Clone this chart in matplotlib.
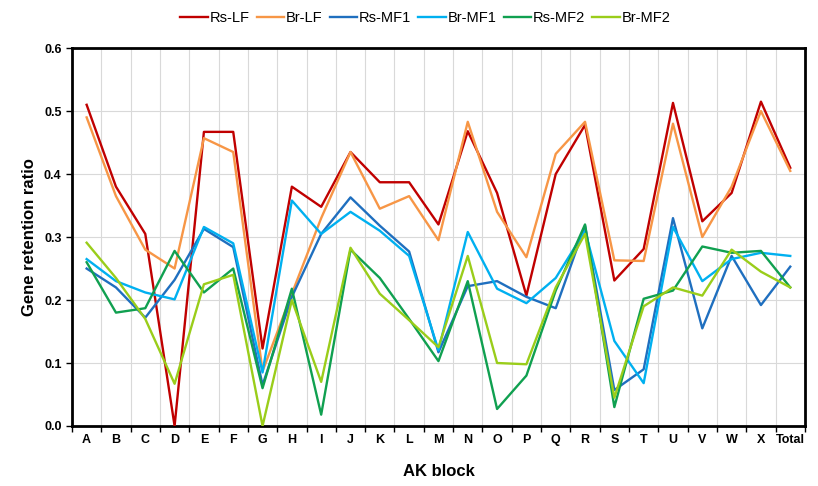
import matplotlib
matplotlib.use("Agg")
import matplotlib.pyplot as plt
import numpy as np

plt.rcParams['font.family'] = ['Liberation Sans', 'DejaVu Sans']

categories = ['A', 'B', 'C', 'D', 'E', 'F', 'G', 'H', 'I', 'J', 'K', 'L', 'M',
              'N', 'O', 'P', 'Q', 'R', 'S', 'T', 'U', 'V', 'W', 'X', 'Total']

rs_lf = [0.510, 0.380, 0.305, 0.000, 0.467, 0.467, 0.123, 0.380, 0.348, 0.435,
         0.387, 0.387, 0.320, 0.468, 0.370, 0.207, 0.400, 0.478, 0.231, 0.281,
         0.513, 0.325, 0.370, 0.515, 0.410]
br_lf = [0.490, 0.365, 0.280, 0.250, 0.457, 0.435, 0.087, 0.210, 0.330, 0.435,
         0.345, 0.365, 0.295, 0.483, 0.340, 0.268, 0.432, 0.483, 0.263, 0.262,
         0.480, 0.300, 0.380, 0.500, 0.405]
rs_mf1 = [0.250, 0.220, 0.172, 0.232, 0.313, 0.284, 0.065, 0.205, 0.305, 0.363,
          0.318, 0.277, 0.117, 0.222, 0.230, 0.205, 0.187, 0.318, 0.057, 0.090,
          0.330, 0.155, 0.270, 0.192, 0.253]
br_mf1 = [0.265, 0.230, 0.212, 0.201, 0.316, 0.290, 0.085, 0.358, 0.305, 0.340,
          0.310, 0.270, 0.120, 0.308, 0.218, 0.195, 0.235, 0.310, 0.135, 0.068,
          0.316, 0.230, 0.265, 0.275, 0.270]
rs_mf2 = [0.260, 0.180, 0.187, 0.278, 0.212, 0.250, 0.060, 0.218, 0.018, 0.280,
          0.235, 0.170, 0.103, 0.230, 0.027, 0.080, 0.215, 0.320, 0.030, 0.202,
          0.215, 0.285, 0.275, 0.278, 0.220]
br_mf2 = [0.291, 0.235, 0.170, 0.067, 0.225, 0.240, 0.000, 0.200, 0.070, 0.283,
          0.210, 0.168, 0.125, 0.270, 0.100, 0.098, 0.220, 0.305, 0.045, 0.190,
          0.220, 0.207, 0.280, 0.245, 0.220]

series_names = ['Rs-LF', 'Br-LF', 'Rs-MF1', 'Br-MF1', 'Rs-MF2', 'Br-MF2']
series_values = [rs_lf, br_lf, rs_mf1, br_mf1, rs_mf2, br_mf2]
colors = ['#C00000', '#F79646', '#1F6FBF', '#00B0F0', '#10A050', '#9ACD1A']

fig = plt.figure(figsize=(8.18, 4.86), dpi=100)
ax = fig.add_axes([0.088, 0.1235, 0.896, 0.7775])

x = np.arange(len(categories))
for name, vals, c in zip(series_names, series_values, colors):
    ax.plot(x, vals, color=c, lw=1.7, label=name, zorder=3)

ax.set_xlim(-0.5, len(categories) - 0.5)
ax.set_ylim(0, 0.6)
ax.set_yticks(np.arange(0, 0.61, 0.1))
ax.set_yticklabels([f"{v:.1f}" for v in np.arange(0, 0.61, 0.1)],
                   fontsize=9, fontweight='bold')
ax.set_xticks(x)
ax.set_xticklabels(categories, fontsize=9, fontweight='bold')
ax.tick_params(axis='x', which='major', length=0, pad=6)
ax.set_xticks(np.arange(-0.5, len(categories), 1.0), minor=True)
ax.tick_params(axis='x', which='minor', length=4, width=1, direction='out')
ax.tick_params(axis='y', which='major', length=4, width=1, direction='out')
ax.grid(axis='x', which='minor', color='#D9D9D9', lw=0.8)
ax.grid(axis='y', which='major', color='#D9D9D9', lw=0.8)
ax.set_axisbelow(True)
for sp in ax.spines.values():
    sp.set_linewidth(2.0)
    sp.set_color('black')

ax.set_xlabel('AK block', fontsize=12, fontweight='bold', labelpad=13)
ax.set_ylabel('Gene retention ratio', fontsize=12, fontweight='bold', labelpad=5)

fig.legend(loc='upper center', bbox_to_anchor=(0.52, 1.005), ncol=6,
           frameon=False, fontsize=10.5, handlelength=1.9, columnspacing=0.5,
           handletextpad=0.1)

fig.savefig('out.png', dpi=100)
